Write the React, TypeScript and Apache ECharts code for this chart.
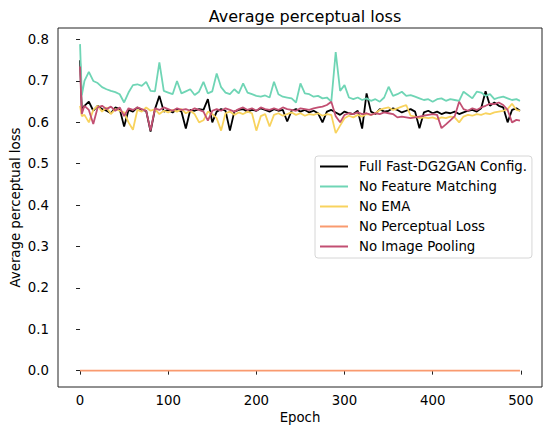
import React, { useEffect, useRef } from "react";
import * as echarts from "echarts";

const epochs = [
  0, 2, 5, 10, 15, 20, 25, 30, 35, 40, 45, 50, 55, 60, 65, 70, 75, 80, 85, 90, 95,
  100, 105, 110, 115, 120, 125, 130, 135, 140, 145, 150, 155, 160, 165, 170, 175, 180, 185, 190, 195,
  200, 205, 210, 215, 220, 225, 230, 235, 240, 245, 250, 255, 260, 265, 270, 275, 280, 285, 290, 295,
  300, 305, 310, 315, 320, 325, 330, 335, 340, 345, 350, 355, 360, 365, 370, 375, 380, 385, 390, 395,
  400, 405, 410, 415, 420, 425, 430, 435, 440, 445, 450, 455, 460, 465, 470, 475, 480, 485, 490, 495, 499,
];

const fullConfig = [
  0.750, 0.630, 0.640, 0.650, 0.628, 0.640, 0.632, 0.628, 0.622, 0.636, 0.632, 0.590, 0.630, 0.626, 0.636, 0.630, 0.628, 0.578, 0.632, 0.664, 0.626,
  0.630, 0.624, 0.632, 0.626, 0.585, 0.630, 0.628, 0.632, 0.630, 0.656, 0.600, 0.626, 0.632, 0.628, 0.580, 0.626, 0.630, 0.632, 0.626, 0.630,
  0.628, 0.634, 0.630, 0.626, 0.632, 0.628, 0.630, 0.602, 0.628, 0.632, 0.626, 0.630, 0.624, 0.628, 0.622, 0.600, 0.626, 0.630, 0.624, 0.618,
  0.626, 0.622, 0.620, 0.628, 0.585, 0.670, 0.626, 0.620, 0.632, 0.626, 0.628, 0.634, 0.630, 0.624, 0.628, 0.632, 0.626, 0.586, 0.624, 0.628,
  0.622, 0.626, 0.620, 0.624, 0.622, 0.626, 0.620, 0.624, 0.628, 0.630, 0.626, 0.634, 0.675, 0.640, 0.648, 0.640, 0.636, 0.600, 0.630, 0.634, 0.628,
];

const noFeatureMatching = [
  0.789, 0.665, 0.700, 0.722, 0.700, 0.695, 0.685, 0.680, 0.676, 0.673, 0.668, 0.648, 0.672, 0.690, 0.692, 0.688, 0.698, 0.676, 0.675, 0.745, 0.676,
  0.672, 0.668, 0.700, 0.670, 0.675, 0.680, 0.666, 0.674, 0.698, 0.670, 0.675, 0.718, 0.685, 0.672, 0.668, 0.680, 0.670, 0.694, 0.672, 0.668,
  0.664, 0.662, 0.665, 0.660, 0.698, 0.668, 0.662, 0.660, 0.658, 0.648, 0.694, 0.670, 0.668, 0.662, 0.664, 0.658, 0.660, 0.650, 0.770, 0.676,
  0.690, 0.660, 0.656, 0.660, 0.654, 0.658, 0.652, 0.656, 0.650, 0.660, 0.686, 0.664, 0.668, 0.674, 0.664, 0.666, 0.662, 0.658, 0.654, 0.656,
  0.650, 0.656, 0.658, 0.652, 0.656, 0.654, 0.652, 0.674, 0.666, 0.658, 0.674, 0.672, 0.664, 0.668, 0.656, 0.660, 0.662, 0.658, 0.654, 0.656, 0.652,
];

const noEMA = [
  0.640, 0.615, 0.618, 0.600, 0.630, 0.640, 0.626, 0.636, 0.620, 0.632, 0.628, 0.624, 0.600, 0.582, 0.630, 0.626, 0.636, 0.628, 0.632, 0.620, 0.628,
  0.624, 0.630, 0.626, 0.632, 0.622, 0.628, 0.620, 0.600, 0.605, 0.626, 0.620, 0.610, 0.580, 0.622, 0.626, 0.618, 0.624, 0.620, 0.626, 0.622,
  0.580, 0.615, 0.620, 0.590, 0.618, 0.622, 0.616, 0.620, 0.624, 0.618, 0.622, 0.616, 0.620, 0.618, 0.622, 0.616, 0.620, 0.618, 0.574, 0.592,
  0.610, 0.616, 0.612, 0.618, 0.614, 0.620, 0.618, 0.622, 0.630, 0.634, 0.636, 0.630, 0.634, 0.638, 0.642, 0.616, 0.614, 0.610, 0.612, 0.610,
  0.612, 0.608, 0.612, 0.610, 0.614, 0.612, 0.600, 0.614, 0.618, 0.616, 0.620, 0.618, 0.622, 0.620, 0.624, 0.626, 0.628, 0.632, 0.645, 0.630, 0.628,
];

const perceptualEpochs = [0, 499];
const noPerceptualLoss = [0.0, 0.0];

const noImagePooling = [
  0.735, 0.620, 0.640, 0.630, 0.596, 0.636, 0.640, 0.632, 0.638, 0.628, 0.636, 0.615, 0.634, 0.630, 0.636, 0.632, 0.628, 0.580, 0.634, 0.630, 0.636,
  0.632, 0.628, 0.634, 0.630, 0.632, 0.628, 0.634, 0.630, 0.626, 0.604, 0.628, 0.632, 0.628, 0.634, 0.630, 0.626, 0.632, 0.636, 0.630, 0.634,
  0.628, 0.636, 0.632, 0.630, 0.634, 0.630, 0.636, 0.632, 0.630, 0.628, 0.634, 0.632, 0.630, 0.634, 0.636, 0.638, 0.642, 0.650, 0.615, 0.600,
  0.618, 0.622, 0.620, 0.624, 0.620, 0.622, 0.618, 0.622, 0.620, 0.624, 0.622, 0.620, 0.612, 0.614, 0.612, 0.610, 0.612, 0.614, 0.616, 0.618,
  0.620, 0.618, 0.586, 0.595, 0.605, 0.615, 0.650, 0.632, 0.628, 0.634, 0.630, 0.636, 0.640, 0.645, 0.644, 0.648, 0.642, 0.630, 0.600, 0.606, 0.604,
];

const xTicks = [0, 100, 200, 300, 400, 500];
const yTicks = [0.0, 0.1, 0.2, 0.3, 0.4, 0.5, 0.6, 0.7, 0.8];

const FONT = "DejaVu Sans";
const FS = 13.3;

const zip = (xs: number[], ys: number[]) => xs.map((x, i) => [x, ys[i]]);

export default function App() {
  const ref = useRef<HTMLDivElement>(null);
  useEffect(() => {
    if (!ref.current) return;
    const chart = echarts.init(ref.current, undefined, { renderer: "svg" });
    const mkSeries = (name: string, xs: number[], ys: number[], color: string) => ({
      name,
      type: "line",
      data: zip(xs, ys),
      symbol: "none",
      lineStyle: { color, width: 1.8 },
      itemStyle: { color },
      emphasis: { disabled: true },
    });
    chart.setOption({
      animation: false,
      backgroundColor: "#ffffff",
      title: {
        text: "Average perceptual loss",
        left: 300,
        top: 3,
        textAlign: "center",
        textStyle: { fontFamily: FONT, fontSize: 16, fontWeight: "normal", color: "#000" },
      },
      grid: {
        left: 58,
        right: 8,
        top: 28,
        bottom: 51,
        show: true,
        containLabel: false,
        outerBoundsMode: "none",
        borderColor: "#222",
        borderWidth: 1,
        backgroundColor: "transparent",
      },
      legend: {
        orient: "vertical",
        left: 315,
        top: 156,
        padding: [3, 5, 4, 5],
        itemGap: 5,
        itemWidth: 28,
        itemHeight: 2,
        icon: "rect",
        backgroundColor: "#fff",
        borderColor: "#d6d6d6",
        borderWidth: 1,
        borderRadius: 3,
        textStyle: { fontFamily: FONT, fontSize: FS, color: "#000", lineHeight: 15, padding: [0, 0, 0, 6] },
        data: ["Full Fast-DG2GAN Config.", "No Feature Matching", "No EMA", "No Perceptual Loss", "No Image Pooling"],
      },
      xAxis: {
        type: "value",
        min: -25,
        max: 524,
        name: "Epoch",
        nameLocation: "middle",
        nameGap: 24,
        nameMoveOverlap: false,
        nameTextStyle: { fontFamily: FONT, fontSize: FS, color: "#000", verticalAlign: "top" },
        axisLine: { show: false },
        splitLine: { show: false },
        axisTick: { show: true, length: 4, lineStyle: { color: "#222" }, customValues: xTicks },
        axisLabel: {
          fontFamily: FONT,
          fontSize: FS,
          color: "#000",
          margin: 7,
          customValues: xTicks,
          formatter: (v: number) => String(v),
        },
      },
      yAxis: {
        type: "value",
        min: -0.0395,
        max: 0.828,
        name: "Average perceptual loss",
        nameLocation: "middle",
        nameGap: 43,
        nameRotate: 90,
        nameMoveOverlap: false,
        nameTextStyle: { fontFamily: FONT, fontSize: FS, color: "#000", verticalAlign: "middle" },
        axisLine: { show: false },
        splitLine: { show: false },
        axisTick: { show: true, length: 4, lineStyle: { color: "#222" }, customValues: yTicks },
        axisLabel: {
          fontFamily: FONT,
          fontSize: FS,
          color: "#000",
          margin: 9,
          customValues: yTicks,
          formatter: (v: number) => v.toFixed(1),
        },
      },
      series: [
        mkSeries("Full Fast-DG2GAN Config.", epochs, fullConfig, "#000000"),
        mkSeries("No Feature Matching", epochs, noFeatureMatching, "#6fd5b5"),
        mkSeries("No EMA", epochs, noEMA, "#f8d35e"),
        mkSeries("No Perceptual Loss", perceptualEpochs, noPerceptualLoss, "#f99a6f"),
        mkSeries("No Image Pooling", epochs, noImagePooling, "#c24f72"),
      ],
    });
    return () => chart.dispose();
  }, []);
  return (
    <div
      ref={ref}
      style={{ position: "fixed", left: 0, top: 0, width: 550, height: 438, background: "#fff" }}
    />
  );
}
